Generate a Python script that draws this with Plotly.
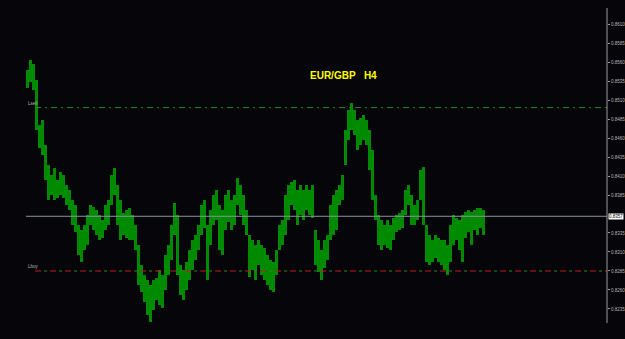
import plotly.graph_objects as go

# H4 bars (high / low)
highs = [0.8549, 0.8563, 0.8557, 0.8536, 0.8477, 0.8484, 0.8451, 0.8424, 0.8411, 0.8421,
         0.8405, 0.8415, 0.8411, 0.8398, 0.8392, 0.8378, 0.8372, 0.8346, 0.8339, 0.8346,
         0.8359, 0.8372, 0.8369, 0.8365, 0.8359, 0.8352, 0.8372, 0.8378, 0.8411, 0.8421,
         0.8398, 0.8378, 0.8361, 0.8365, 0.8368, 0.8359, 0.8346, 0.8319, 0.8293, 0.8280,
         0.8273, 0.8267, 0.8273, 0.8276, 0.8286, 0.8280, 0.8306, 0.8319, 0.8346, 0.8374,
         0.8359, 0.8293, 0.8286, 0.8297, 0.8313, 0.8326, 0.8332, 0.8346, 0.8372, 0.8378,
         0.8346, 0.8365, 0.8385, 0.8392, 0.8372, 0.8365, 0.8385, 0.8392, 0.8378, 0.8385,
         0.8407, 0.8398, 0.8385, 0.8365, 0.8332, 0.8326, 0.8319, 0.8326, 0.8319, 0.8315,
         0.8306, 0.8299, 0.8297, 0.8313, 0.8346, 0.8352, 0.8385, 0.8398, 0.8402, 0.8405,
         0.8392, 0.8398, 0.8392, 0.8398, 0.8392, 0.8398, 0.8339, 0.8326, 0.8313, 0.8326,
         0.8332, 0.8372, 0.8385, 0.8392, 0.8398, 0.8411, 0.8471, 0.8497, 0.8506, 0.8497,
         0.8484, 0.8486, 0.8490, 0.8484, 0.8471, 0.8444, 0.8385, 0.8359, 0.8352, 0.8346,
         0.8352, 0.8346, 0.8355, 0.8359, 0.8361, 0.8365, 0.8392, 0.8398, 0.8385, 0.8372,
         0.8378, 0.8418, 0.8422, 0.8346, 0.8332, 0.8326, 0.8332, 0.8328, 0.8326, 0.8326,
         0.8319, 0.8346, 0.8359, 0.8355, 0.8352, 0.8359, 0.8363, 0.8365, 0.8363, 0.8365,
         0.8368, 0.8368, 0.8365]
lows = [0.8526, 0.8534, 0.8523, 0.8471, 0.8447, 0.8438, 0.8405, 0.8378, 0.8385, 0.8378,
        0.8381, 0.8385, 0.8381, 0.8372, 0.8365, 0.8346, 0.8336, 0.8306, 0.8297, 0.8313,
        0.8319, 0.8346, 0.8339, 0.8332, 0.8326, 0.8328, 0.8339, 0.8346, 0.8372, 0.8385,
        0.8346, 0.8326, 0.8332, 0.8328, 0.8326, 0.8326, 0.8313, 0.8267, 0.8257, 0.8244,
        0.8227, 0.8218, 0.8234, 0.8247, 0.8240, 0.8236, 0.8260, 0.8280, 0.8299, 0.8332,
        0.8280, 0.8253, 0.8247, 0.8260, 0.8273, 0.8286, 0.8299, 0.8313, 0.8332, 0.8342,
        0.8273, 0.8319, 0.8346, 0.8352, 0.8313, 0.8306, 0.8339, 0.8349, 0.8339, 0.8346,
        0.8372, 0.8359, 0.8346, 0.8332, 0.8277, 0.8286, 0.8273, 0.8293, 0.8280, 0.8273,
        0.8267, 0.8260, 0.8257, 0.8280, 0.8313, 0.8319, 0.8332, 0.8352, 0.8372, 0.8365,
        0.8346, 0.8359, 0.8352, 0.8365, 0.8359, 0.8355, 0.8293, 0.8284, 0.8273, 0.8289,
        0.8299, 0.8326, 0.8332, 0.8339, 0.8372, 0.8378, 0.8424, 0.8457, 0.8471, 0.8464,
        0.8444, 0.8451, 0.8457, 0.8451, 0.8418, 0.8378, 0.8352, 0.8319, 0.8313, 0.8319,
        0.8315, 0.8313, 0.8326, 0.8336, 0.8339, 0.8342, 0.8359, 0.8372, 0.8346, 0.8346,
        0.8352, 0.8378, 0.8346, 0.8297, 0.8293, 0.8297, 0.8302, 0.8297, 0.8293, 0.8286,
        0.8280, 0.8297, 0.8319, 0.8326, 0.8313, 0.8297, 0.8328, 0.8336, 0.8319, 0.8339,
        0.8332, 0.8342, 0.8332]

tick_prices = [0.8610, 0.8585, 0.8560, 0.8535, 0.8510, 0.8485, 0.8460, 0.8435,
               0.8410, 0.8385, 0.8335, 0.8310, 0.8285, 0.8260, 0.8235]
tick_labels = ["%.4f" % p for p in tick_prices]
current_price = 0.8357
sell_level = 0.8500
buy_level = 0.8285
title_text = "EUR/GBP\u00a0\u00a0\u00a0H4"

bar_index = list(range(len(highs)))
heights = [h - l for h, l in zip(highs, lows)]

BG = "#060509"
GREEN = "#008a00"
LINE_GREEN = "#2a8a2a"
AXIS_FONT = dict(size=4.5, color="#b8b8b8", family="Liberation Sans")

fig = go.Figure()
fig.add_trace(go.Bar(x=bar_index, y=heights, base=lows, width=1,
                     marker=dict(color=GREEN, line=dict(width=0)),
                     hoverinfo="skip", showlegend=False))

x_lo, x_hi = -9, 193.33
line_start = -0.33

# current price line
fig.add_trace(go.Scatter(x=[line_start, x_hi], y=[current_price, current_price], mode="lines",
                         line=dict(color="#8c93a0", width=1), showlegend=False, hoverinfo="skip"))
# sell line (green dash-dot)
fig.add_trace(go.Scatter(x=[2.7, x_hi], y=[sell_level, sell_level], mode="lines",
                         line=dict(color=LINE_GREEN, width=1, dash="6px,4px,2px,4px"),
                         showlegend=False, hoverinfo="skip"))
# buy line (red + green dash-dot)
fig.add_trace(go.Scatter(x=[2.7, x_hi], y=[buy_level, buy_level], mode="lines",
                         line=dict(color="#c41e1e", width=1, dash="6px,9px"),
                         showlegend=False, hoverinfo="skip"))
fig.add_trace(go.Scatter(x=[2.7, x_hi], y=[buy_level, buy_level], mode="lines",
                         line=dict(color=LINE_GREEN, width=1, dash="0px,9px,3px,3px"),
                         showlegend=False, hoverinfo="skip"))

fig.add_annotation(x=line_start, y=sell_level, text="Lsell", showarrow=False,
                   xanchor="left", yanchor="bottom", font=AXIS_FONT)
fig.add_annotation(x=line_start, y=buy_level, text="Lbuy", showarrow=False,
                   xanchor="left", yanchor="bottom", font=AXIS_FONT)

fig.add_annotation(xref="paper", yref="paper", x=343 / 607, y=1 - 75 / 339, text="<b>" + title_text + "</b>",
                   showarrow=False, font=dict(size=10, color="#ffff00", family="Liberation Sans"),
                   xanchor="center", yanchor="middle")

# current price box at right
fig.add_annotation(xref="paper", x=1.0, y=current_price, text="%.4f" % current_price,
                   showarrow=False, xanchor="left", yanchor="middle", xshift=1,
                   bgcolor="#ffffff", borderpad=0,
                   font=dict(size=4.5, color="#000000", family="Liberation Sans"))

# right axis line
fig.add_shape(type="line", xref="paper", yref="paper", x0=1, x1=1, y0=1 - 8 / 339, y1=1 - 323 / 339,
              line=dict(color="#9a9a9a", width=1))

fig.update_layout(
    width=625, height=339,
    margin=dict(l=0, r=18, t=0, b=0),
    paper_bgcolor=BG, plot_bgcolor=BG,
    bargap=0, showlegend=False,
    xaxis=dict(range=[x_lo, x_hi], visible=False, fixedrange=True),
    yaxis=dict(range=[0.81955, 0.86416], side="right", showgrid=False, zeroline=False,
               showline=False, ticks="outside", ticklen=2, tickcolor="#9a9a9a",
               tickvals=tick_prices, ticktext=tick_labels, automargin=False,
               tickfont=AXIS_FONT, ticklabelstandoff=0),
)

fig.write_html("out.html")
